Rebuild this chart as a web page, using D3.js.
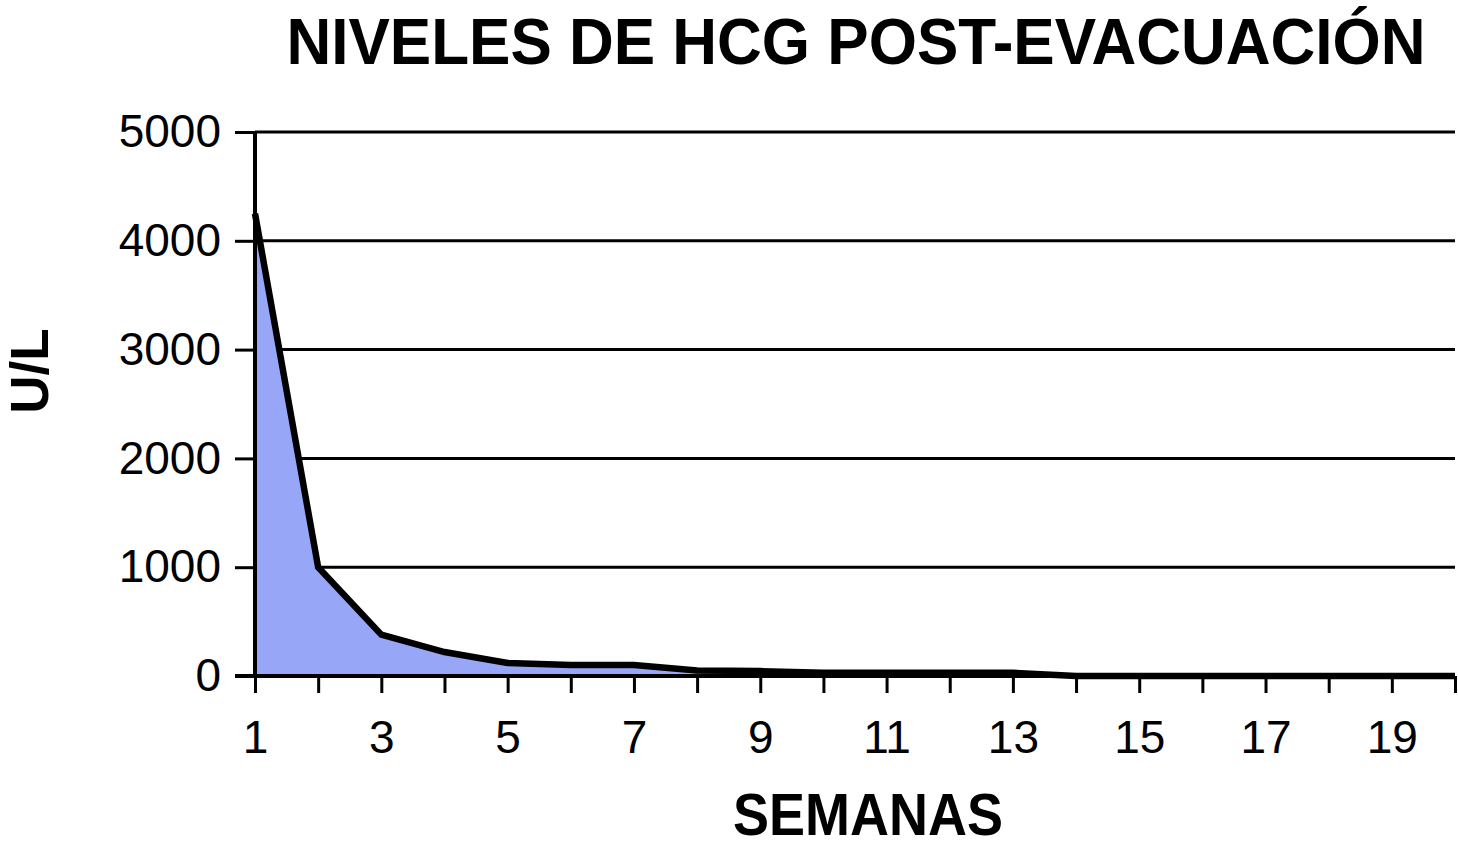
<!DOCTYPE html>
<html lang="es">
<head>
  <meta charset="UTF-8">
  <title>Niveles de HCG post-evacuación</title>
  <script src="https://d3js.org/d3.v7.min.js"></script>
  <style>
    html, body { margin: 0; padding: 0; background: #fff; }
    svg { font-family: "Liberation Sans", Arial, sans-serif; display: block; }
  </style>
</head>
<body>
  <svg width="1458" height="847"></svg>
  <script>
    // data
    const semanas = d3.range(1, 21);
    const niveles = [4250, 1000, 380, 220, 120, 100, 100, 50, 45, 30,
                     30, 30, 30, 0, 0, 0, 0, 0, 0, 0];
    const yTicks = [0, 1000, 2000, 3000, 4000, 5000];
    const xLabels = [1, 3, 5, 7, 9, 11, 13, 15, 17, 19];

    const svg = d3.select("svg");
    const plotL = 255, plotR = 1455, plotT = 132, plotB = 676;

    const x = d3.scalePoint().domain(semanas).range([plotL, plotR]);
    const y = d3.scaleLinear().domain([0, 5000]).range([plotB, plotT]);

    // gridlines
    svg.append("g")
      .selectAll("line")
      .data(yTicks.filter(d => d > 0))
      .join("line")
      .attr("x1", plotL).attr("x2", plotR)
      .attr("y1", d => y(d)).attr("y2", d => y(d))
      .attr("stroke", "#000").attr("stroke-width", 3);

    // area
    const data = semanas.map((s, i) => ({ s, v: niveles[i] }));
    svg.append("path")
      .datum(data)
      .attr("fill", "#98a6f8")
      .attr("d", d3.area().x(d => x(d.s)).y0(y(0)).y1(d => y(d.v)));

    svg.append("path")
      .datum(data)
      .attr("fill", "none")
      .attr("stroke", "#000")
      .attr("stroke-width", 6.5)
      .attr("stroke-linejoin", "miter")
      .attr("d", d3.line().x(d => x(d.s)).y(d => y(d.v)));

    // y axis
    const yAxis = svg.append("g")
      .attr("transform", `translate(${plotL},0)`)
      .call(d3.axisLeft(y).tickValues(yTicks).tickSize(20).tickPadding(14).tickFormat(d3.format("d")));
    yAxis.select(".domain").attr("stroke-width", 4).attr("d", `M0,${plotT}V${plotB}`);
    yAxis.selectAll(".tick line").attr("stroke-width", 3);
    yAxis.selectAll(".tick text")
      .attr("font-size", 46).attr("fill", "#000")
      .attr("font-family", "Liberation Sans, Arial, sans-serif");

    // x axis
    const xAxis = svg.append("g")
      .attr("transform", `translate(0,${plotB})`)
      .call(d3.axisBottom(x).tickSize(17).tickPadding(27)
        .tickFormat(d => xLabels.includes(d) ? d : ""));
    xAxis.select(".domain").attr("stroke-width", 4).attr("d", `M${plotL - 20},0H${plotR}`);
    xAxis.selectAll(".tick line").attr("stroke-width", 3);
    xAxis.selectAll(".tick text")
      .attr("font-size", 46).attr("fill", "#000")
      .attr("font-family", "Liberation Sans, Arial, sans-serif");

    // titles
    svg.append("text")
      .attr("transform", "translate(856,64) scale(1,1.04)")
      .attr("text-anchor", "middle")
      .attr("font-size", 62).attr("font-weight", "bold")
      .text("NIVELES DE HCG POST-EVACUACIÓN");

    svg.append("text")
      .attr("transform", "translate(868,835) scale(1,1.1)")
      .attr("text-anchor", "middle")
      .attr("font-size", 54).attr("font-weight", "bold")
      .text("SEMANAS");

    svg.append("text")
      .attr("transform", "translate(48,371) rotate(-90)")
      .attr("text-anchor", "middle")
      .attr("font-size", 53).attr("font-weight", "bold")
      .text("U/L");
  </script>
</body>
</html>
